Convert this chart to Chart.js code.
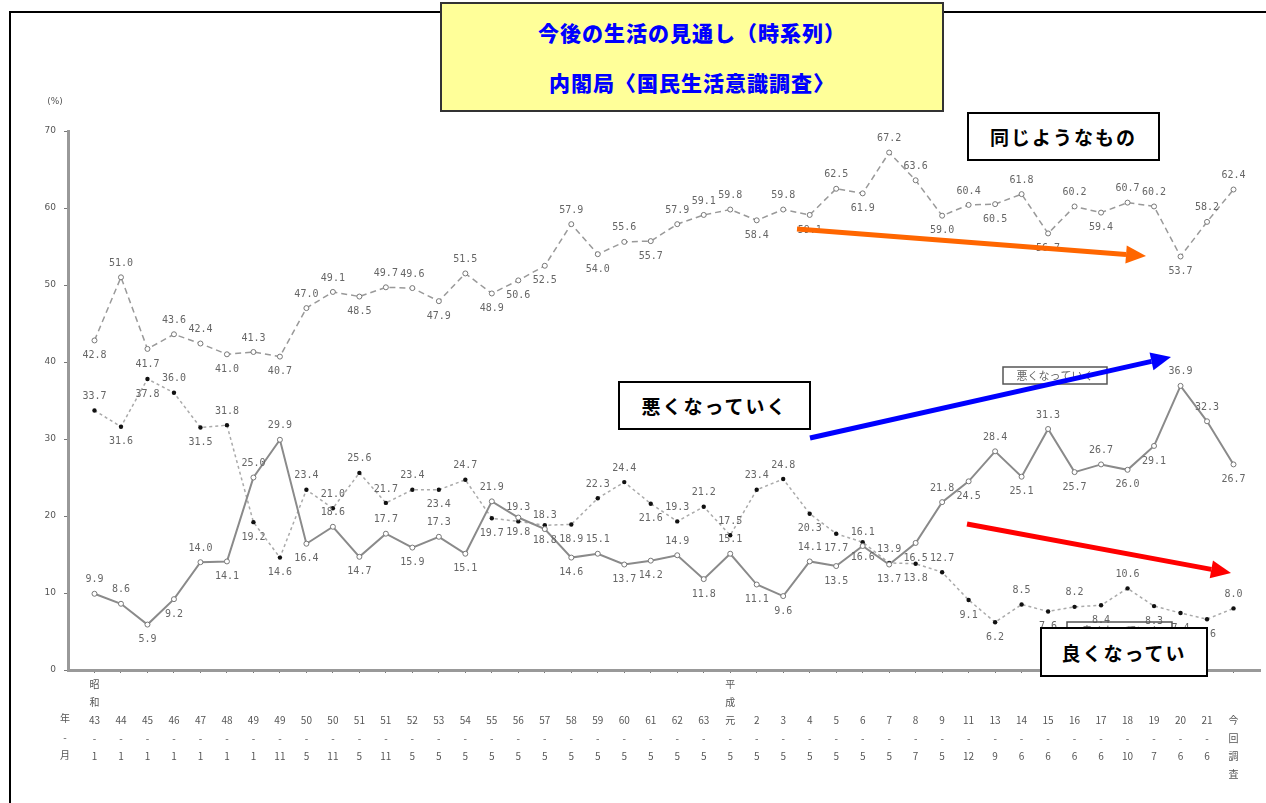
<!DOCTYPE html>
<html lang="ja">
<head>
<meta charset="utf-8">
<title>今後の生活の見通し（時系列）</title>
<script src="https://cdn.jsdelivr.net/npm/chart.js@4.4.0/dist/chart.umd.min.js"></script>
<style>
  html, body { margin: 0; padding: 0; background: #fff; }
  #wrap { position: relative; width: 1266px; height: 803px; overflow: hidden; }
  #frame { position: absolute; left: 9px; top: 11px; width: 1400px; height: 900px;
           border-left: 2px solid #000; border-top: 2px solid #000; }
  #chart { position: absolute; left: 0; top: 0; }
  .title { position: absolute; left: 440px; top: 2px; width: 500px; height: 106px;
           background: #ffff99; border: 2px solid #333;
           font-family: "Noto Sans CJK JP", sans-serif; font-weight: 900;
           color: #0000ff; font-size: 21px; letter-spacing: 1px; text-align: center; }
  .title div { height: 50px; line-height: 50px; }
  .tag { position: absolute; background: #fff; border: 2px solid #000; box-sizing: border-box;
         font-family: "Noto Sans CJK JP", sans-serif; font-weight: bold; font-size: 19px;
         letter-spacing: 2px; color: #000;
         display: flex; align-items: center; justify-content: center; }
</style>
</head>
<body>
<div id="wrap">
  <div id="frame"></div>
  <canvas id="chart" width="1266" height="803"></canvas>
  <div class="title">
    <div style="margin-top:3px">今後の生活の見通し（時系列）</div>
    <div>内閣局〈国民生活意識調査〉</div>
  </div>
  <div class="tag" style="left:967px; top:112px; width:193px; height:49px;">同じようなもの</div>
  <div class="tag" style="left:618px; top:381px; width:193px; height:49px;">悪くなっていく</div>
  <div class="tag" style="left:1040px; top:627px; width:168px; height:50px;">良くなってい</div>
</div>

<script>
// 調査時期（年・月）
var years = ['43','44','45','46','47','48','49','49','50','50','51','51',
             '52','53','54','55','56','57','58','59','60','61','62','63',
             '元','2','3','4','5','6','7','8','9','11','13','14','15','16','17','18','19','20','21','今回調査'];
var months = ['1','1','1','1','1','1','1','11','5','11','5','11',
              '5','5','5','5','5','5','5','5','5','5','5','5',
              '5','5','5','5','5','5','5','7','5','12','9','6','6','6','6','10','7','6','6',''];
var eras = { 0: ['昭', '和'], 24: ['平', '成'] };

// 同じようなもの
var sameValues = [42.8, 51.0, 41.7, 43.6, 42.4, 41.0, 41.3, 40.7, 47.0, 49.1, 48.5, 49.7,
                  49.6, 47.9, 51.5, 48.9, 50.6, 52.5, 57.9, 54.0, 55.6, 55.7, 57.9, 59.1,
                  59.8, 58.4, 59.8, 59.1, 62.5, 61.9, 67.2, 63.6, 59.0, 60.4, 60.5, 61.8,
                  56.7, 60.2, 59.4, 60.7, 60.2, 53.7, 58.2, 62.4];
// 悪くなっていく
var worseValues = [9.9, 8.6, 5.9, 9.2, 14.0, 14.1, 25.0, 29.9, 16.4, 18.6, 14.7, 17.7,
                   15.9, 17.3, 15.1, 21.9, 19.8, 18.3, 14.6, 15.1, 13.7, 14.2, 14.9, 11.8,
                   15.1, 11.1, 9.6, 14.1, 13.5, 16.1, 13.7, 16.5, 21.8, 24.5, 28.4, 25.1,
                   31.3, 25.7, 26.7, 26.0, 29.1, 36.9, 32.3, 26.7];
// 良くなっていく
var betterValues = [33.7, 31.6, 37.8, 36.0, 31.5, 31.8, 19.2, 14.6, 23.4, 21.0, 25.6, 21.7,
                    23.4, 23.4, 24.7, 19.7, 19.3, 18.8, 18.9, 22.3, 24.4, 21.6, 19.3, 21.2,
                    17.5, 23.4, 24.8, 20.3, 17.7, 16.6, 13.9, 13.8, 12.7, 9.1, 6.2, 8.5,
                    7.6, 8.2, 8.4, 10.6, 8.3, 7.4, 6.6, 8.0];

var yTicks = [0, 10, 20, 30, 40, 50, 60, 70];

function toPoints(values) {
    return values.map(function(v, i) { return { x: i, y: v }; });
}

// data labels: above a point that sits higher than its neighbours, below otherwise;
// flip to the other side when it would sit on a label already drawn
var valueLabels = {
    id: 'valueLabels',
    afterDatasetsDraw: function(chart) {
        var ctx = chart.ctx;
        var placed = [];
        var w = 24, h = 11;
        function hits(x, y) {
            return placed.some(function(b) {
                return Math.abs(b.x - x) < w && Math.abs(b.y - y) < h;
            });
        }
        ctx.save();
        ctx.font = '10px "DejaVu Sans Mono", monospace';
        ctx.fillStyle = '#666';
        ctx.textAlign = 'center';
        ctx.textBaseline = 'middle';
        chart.data.datasets.forEach(function(ds, di) {
            var meta = chart.getDatasetMeta(di);
            var vals = ds.data.map(function(p) { return p.y; });
            meta.data.forEach(function(pt, i) {
                var v = vals[i];
                var prev = i > 0 ? vals[i - 1] : vals[i + 1];
                var next = i < vals.length - 1 ? vals[i + 1] : vals[i - 1];
                var up = v >= (prev + next) / 2;
                var y = pt.y + (up ? -14 : 15);
                if (hits(pt.x, y)) {
                    var alt = pt.y + (up ? 15 : -14);
                    if (!hits(pt.x, alt)) y = alt;
                }
                placed.push({ x: pt.x, y: y });
                ctx.fillText(v.toFixed(1), pt.x, y);
            });
        });
        ctx.restore();
    }
};

function drawArrow(ctx, x1, y1, x2, y2, color) {
    var a = Math.atan2(y2 - y1, x2 - x1);
    var hl = 20, hw = 9;
    var bx = x2 - hl * Math.cos(a), by = y2 - hl * Math.sin(a);
    ctx.strokeStyle = color;
    ctx.fillStyle = color;
    ctx.lineWidth = 5;
    ctx.beginPath();
    ctx.moveTo(x1, y1);
    ctx.lineTo(bx, by);
    ctx.stroke();
    ctx.beginPath();
    ctx.moveTo(x2, y2);
    ctx.lineTo(bx + hw * Math.sin(a), by - hw * Math.cos(a));
    ctx.lineTo(bx - hw * Math.sin(a), by + hw * Math.cos(a));
    ctx.closePath();
    ctx.fill();
}

var extras = {
    id: 'extras',
    afterDraw: function(chart) {
        var ctx = chart.ctx;
        ctx.save();
        ctx.fillStyle = '#555';
        ctx.font = '9px "DejaVu Sans", sans-serif';
        ctx.textAlign = 'center';
        ctx.textBaseline = 'middle';
        ctx.fillText('(%)', 55, 102);
        ctx.font = '10px "Noto Sans CJK JP", sans-serif';
        ctx.fillText('年', 65, 718);
        ctx.fillText('-', 65, 737);
        ctx.fillText('月', 65, 755);

        // original small legend boxes
        ctx.strokeStyle = '#555';
        ctx.lineWidth = 1.5;
        ctx.strokeRect(1003, 367, 104, 17);
        ctx.strokeRect(1067, 622, 105, 17);
        ctx.font = '11px "Noto Sans CJK JP", sans-serif';
        ctx.fillStyle = '#666';
        ctx.fillText('悪くなっていく', 1055, 376);
        ctx.fillText('良くなっていく', 1120, 631);

        drawArrow(ctx, 797, 229, 1146, 256, '#ff6600');
        drawArrow(ctx, 810, 438, 1171, 357, '#0000ff');
        drawArrow(ctx, 967, 524, 1231, 573, '#ff0000');
        ctx.restore();
    }
};

var ctx = document.getElementById('chart').getContext('2d');
var chart = new Chart(ctx, {
    type: 'line',
    data: {
        datasets: [{
            label: '同じようなもの',
            data: toPoints(sameValues),
            borderColor: '#999',
            borderWidth: 1.5,
            borderDash: [6, 4],
            pointRadius: 2.5,
            pointBackgroundColor: '#fff',
            pointBorderColor: '#777',
            pointBorderWidth: 1,
            tension: 0
        }, {
            label: '悪くなっていく',
            data: toPoints(worseValues),
            borderColor: '#8a8a8a',
            borderWidth: 2,
            pointRadius: 2.5,
            pointBackgroundColor: '#fff',
            pointBorderColor: '#777',
            pointBorderWidth: 1,
            tension: 0
        }, {
            label: '良くなっていく',
            data: toPoints(betterValues),
            borderColor: '#aaa',
            borderWidth: 1.5,
            borderDash: [3, 3],
            pointRadius: 2.2,
            pointBackgroundColor: '#111',
            pointBorderColor: '#111',
            pointBorderWidth: 0,
            tension: 0
        }]
    },
    options: {
        responsive: false,
        animation: false,
        layout: {
            padding: { top: 131, right: 6, left: 0, bottom: 0 }
        },
        plugins: {
            legend: { display: false },
            tooltip: { enabled: false }
        },
        scales: {
            x: {
                type: 'linear',
                min: -1,
                max: 44,
                afterFit: function(scale) { scale.height = 133; },
                afterBuildTicks: function(scale) {
                    scale.ticks = years.map(function(y, i) { return { value: i }; });
                },
                border: { color: '#999', width: 3 },
                grid: { drawOnChartArea: false, color: '#777', tickLength: 3 },
                ticks: {
                    autoSkip: false,
                    maxRotation: 0,
                    padding: 2,
                    color: '#555',
                    font: { size: 10, family: '"Noto Sans CJK JP", sans-serif', lineHeight: 1.8 },
                    callback: function(value) {
                        var i = Math.round(value);
                        var era = eras[i] || ['', ''];
                        if (years[i] === '今回調査') {
                            return ['', '', '今', '回', '調', '査'];
                        }
                        return [era[0], era[1], years[i], '-', months[i]];
                    }
                }
            },
            y: {
                min: 0,
                max: 70,
                afterFit: function(scale) { scale.width = 68; },
                afterBuildTicks: function(scale) {
                    scale.ticks = yTicks.map(function(v) { return { value: v }; });
                },
                border: { color: '#999', width: 3 },
                grid: { drawOnChartArea: false, color: '#777', tickLength: 4 },
                ticks: {
                    padding: 8,
                    color: '#555',
                    font: { size: 9, family: '"DejaVu Sans", sans-serif' }
                }
            }
        }
    },
    plugins: [valueLabels, extras]
});
</script>
</body>
</html>
